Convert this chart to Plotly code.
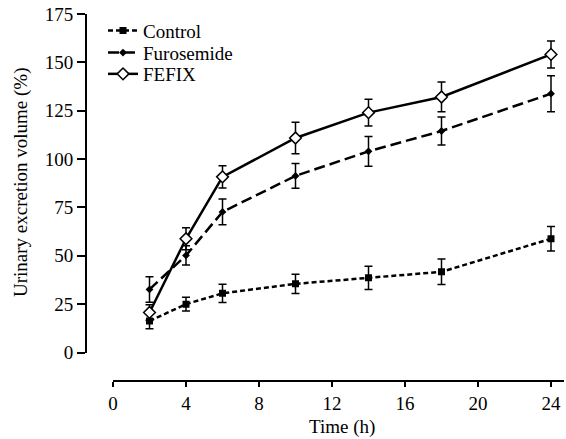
import plotly.graph_objects as go

time_h = [2, 4, 6, 10, 14, 18, 24]
control = [16.3, 25.0, 30.6, 35.5, 38.6, 41.7, 58.8]
control_err = [4.0, 3.5, 4.7, 5.0, 6.0, 6.6, 6.3]
furosemide = [32.6, 50.2, 72.7, 91.3, 104.0, 114.5, 133.8]
furosemide_err = [6.6, 5.0, 6.7, 6.4, 7.7, 7.2, 9.3]
fefix = [20.7, 58.8, 90.8, 110.9, 124.0, 132.1, 154.1]
fefix_err = [4.0, 5.7, 5.8, 8.2, 6.9, 7.7, 7.0]

x_ticks = [0, 4, 8, 12, 16, 20, 24]
y_ticks = [0, 25, 50, 75, 100, 125, 150, 175]

FONT = "Liberation Serif, Times New Roman, Times, serif"
W, H = 566, 439
L, R, T, B = 86, 2, 14, 58
pw = W - L - R
ph = H - T - B

def err(v):
    return dict(type="data", array=v, visible=True, color="black", thickness=1.5, width=4)

def py(p):
    return 1 - (p - T) / ph

def px(p):
    return (p - L) / pw

fig = go.Figure()
fig.add_trace(go.Scatter(
    x=time_h, y=control, name="Control", mode="lines+markers", legend="legend",
    line=dict(color="black", width=2.5, dash="5px,3px"),
    marker=dict(symbol="square", size=7, color="black"),
    error_y=err(control_err)))
fig.add_trace(go.Scatter(
    x=time_h, y=furosemide, name="Furosemide", mode="lines+markers", legend="legend2",
    line=dict(color="black", width=2.5, dash="11px,5px"),
    marker=dict(symbol="diamond", size=6, color="black"),
    error_y=err(furosemide_err)))
fig.add_trace(go.Scatter(
    x=time_h, y=fefix, name="FEFIX", mode="lines+markers", legend="legend3",
    line=dict(color="black", width=2.5),
    marker=dict(symbol="diamond", size=9, color="white", line=dict(color="black", width=1.5)),
    error_y=err(fefix_err)))

def leg(cy):
    return dict(x=px(103), y=py(cy), xanchor="left", yanchor="middle",
                bgcolor="rgba(0,0,0,0)", font=dict(size=19, family=FONT),
                itemwidth=30, borderwidth=0)

x0_px = 113
y0_px = 352.5
fig.update_layout(
    template="none",
    width=W, height=H,
    margin=dict(l=L, r=R, t=T, b=B, pad=0),
    paper_bgcolor="white", plot_bgcolor="white",
    font=dict(family=FONT, size=19, color="black"),
    showlegend=True,
    legend=leg(30.7), legend2=leg(52.7), legend3=leg(74),
    xaxis=dict(domain=[px(x0_px), 1], anchor="free", position=0, automargin=False,
               range=[0, (W - R - x0_px) / 18.25],
               tickvals=x_ticks, ticks="outside", ticklen=5, tickwidth=2, tickcolor="black",
               showline=True, linewidth=2, linecolor="black", showgrid=False, zeroline=False,
               tickfont=dict(size=19, family=FONT)),
    yaxis=dict(domain=[(H - B - y0_px) / ph, 1], anchor="free", position=0, automargin=False,
               range=[0, 175],
               tickvals=y_ticks, ticks="outside", ticklen=8, tickwidth=2, tickcolor="black",
               showline=True, linewidth=2, linecolor="black", showgrid=False, zeroline=False,
               tickfont=dict(size=19, family=FONT)),
    annotations=[
        dict(text="Time (h)", xref="paper", yref="paper",
             x=px(342), y=py(427), xanchor="center", yanchor="middle",
             showarrow=False, font=dict(size=19, family=FONT)),
        dict(text="Urinary excretion volume (%)", xref="paper", yref="paper",
             x=px(21), y=py(182), xanchor="center", yanchor="middle",
             textangle=-90, showarrow=False, font=dict(size=19, family=FONT)),
    ],
)

fig.write_html("out.html", config={"displayModeBar": False},
               post_script="document.body.style.margin='0';document.body.style.padding='0';document.body.style.overflow='hidden';")
